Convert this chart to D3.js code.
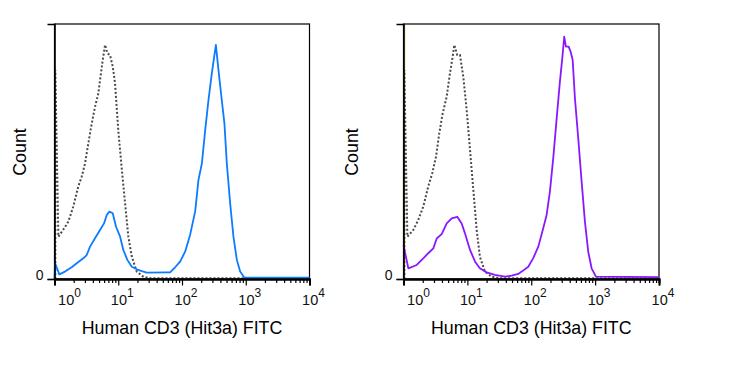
<!DOCTYPE html>
<html>
<head>
<meta charset="utf-8">
<script src="https://cdn.jsdelivr.net/npm/d3@7"></script>
<style>
  html, body { margin: 0; padding: 0; background: #fff; }
  svg { display: block; font-family: "Liberation Sans", Arial, sans-serif; }
</style>
</head>
<body>
<script>
// ---- Data (x = fluorescence intensity, y = count as % of panel max) ----
const leftIsotype = [
  [1.03, 0], [1.03, 82], [1.15, 16.6], [1.37, 19.3], [1.65, 22.5], [1.97, 28.4], [2.36, 36.3],
  [2.67, 40.1], [3.01, 45.3], [3.39, 53.1], [3.84, 61.0], [4.32, 67.5], [4.87, 72.8],
  [5.18, 78.0], [5.71, 85.9], [6.21, 91.8], [6.75, 88.5], [7.43, 87.8], [8.20, 83.3],
  [8.91, 76.7], [10.0, 58.4], [11.4, 42.7], [12.8, 29.7], [14.4, 16.6], [16.3, 8.8],
  [19.5, 2.9], [24.8, 0.9], [31.6, 0.3], [10000, 0.3]
];
const leftStained = [
  [1.0, 0], [1.02, 6.2], [1.19, 1.8], [1.46, 2.9], [1.86, 4.6], [2.23, 6.2], [2.83, 8.1],
  [3.20, 9.4], [3.61, 12.7], [4.32, 16.0], [5.18, 19.2], [5.98, 21.8], [6.60, 25.1],
  [7.25, 26.4], [8.20, 25.8], [9.23, 20.5], [10.7, 16.6], [12.0, 11.4], [13.9, 7.5],
  [16.3, 4.8], [19.5, 3.8], [23.4, 3.1], [28.0, 2.5], [57.7, 2.6], [65.0, 2.6],
  [78.0, 4.6], [93.3, 6.8], [112, 10.7], [134, 17.3], [161, 26.5], [181, 38.8],
  [205, 45.3], [231, 58.3], [260, 70.1], [294, 80.7], [340, 91.8], [373, 82.0],
  [421, 70.1], [463, 61.0], [505, 45.3], [569, 29.7], [641, 16.6], [725, 7.5],
  [817, 2.9], [955, 0.5], [10000, 0.5]
];
const rightIsotype = [
  [1.03, 0], [1.03, 82], [1.15, 16.6], [1.42, 19.2], [1.70, 23.1], [2.04, 28.4], [2.44, 36.3],
  [2.82, 41.5], [3.23, 48.0], [3.63, 57.1], [4.11, 65.0], [4.74, 71.5], [5.34, 80.7],
  [5.89, 87.2], [6.24, 91.8], [6.95, 87.8], [7.66, 87.8], [8.63, 79.3], [9.75, 66.3],
  [11.0, 50.6], [12.4, 34.9], [14.0, 19.2], [15.7, 8.7], [18.8, 2.9], [24.0, 0.9],
  [32, 0.3], [10000, 0.3]
];
const rightStained = [
  [1.0, 13.3], [1.19, 4.2], [1.61, 5.5], [2.04, 8.1], [2.44, 10.1], [2.93, 12.0],
  [3.31, 15.9], [3.96, 17.6], [4.75, 21.8], [5.68, 23.8], [6.95, 24.4], [8.14, 21.8],
  [9.17, 17.9], [11.0, 11.4], [13.2, 6.8], [15.7, 4.2], [20.0, 2.6], [27.0, 1.6],
  [38.8, 0.9], [49.3, 1.3], [62.6, 2.0], [70.8, 2.9], [89.8, 4.8], [107, 8.1],
  [129, 12.7], [154, 19.9], [174, 25.1], [196, 34.3], [221, 47.4], [250, 63.0],
  [281, 77.4], [306, 86.5], [328, 95.0], [349, 91.1], [385, 91.1], [414, 89.1],
  [445, 85.9], [483, 70.9], [544, 55.2], [615, 38.2], [692, 22.5], [780, 10.7],
  [881, 4.2], [1030, 0.9], [10000, 0.7]
];
const majorTicks = [1, 10, 100, 1000, 10000];
const tickExponents = ["0", "1", "2", "3", "4"];
const yTicks = [0];
const yTickLabels = ["0"];
const xTitle = "Human CD3 (Hit3a) FITC";
const yTitle = "Count";
const panelColors = ["#0b7bff", "#8a18ff"];

// ---- Layout ----
const svg = d3.select("body").append("svg").attr("width", 744).attr("height", 380);
const plotTop = 24, plotBottom = 279;
const panels = [
  { left: 54.5, right: 309.5, iso: leftIsotype, stained: leftStained, color: panelColors[0], countX: 20, yellowEdge: false },
  { left: 403.5, right: 659, iso: rightIsotype, stained: rightStained, color: panelColors[1], countX: 352, yellowEdge: true }
];

const minorTicks = [];
for (let d = 1; d < 10000; d *= 10) for (let k = 2; k <= 9; k++) minorTicks.push(d * k);

panels.forEach(p => {
  const x = d3.scaleLog().domain([1, 10000]).range([p.left, p.right]);
  const y = d3.scaleLinear().domain([0, 100]).range([plotBottom, plotTop]);
  const g = svg.append("g");

  // frame
  g.append("rect").attr("x", p.left).attr("y", plotTop)
    .attr("width", p.right - p.left).attr("height", plotBottom - plotTop)
    .attr("fill", "none").attr("stroke", "#000").attr("stroke-width", 1.2);
  if (p.yellowEdge) {
    g.append("line").attr("x1", p.left + 1.3).attr("x2", p.left + 1.3)
      .attr("y1", plotTop + 1).attr("y2", plotBottom).attr("stroke", "#d4dc78").attr("stroke-width", 1);
  }

  // curves
  const line = d3.line().x(d => x(d[0])).y(d => y(d[1]));
  g.append("path").datum(p.iso).attr("d", line).attr("fill", "none")
    .attr("stroke", "#4a4a4a").attr("stroke-width", 2).attr("stroke-dasharray", "2,2");
  g.append("path").datum(p.stained).attr("d", line).attr("fill", "none")
    .attr("stroke", p.color).attr("stroke-width", 1.8).attr("stroke-linejoin", "round");

  // x axis major / minor
  const axMajor = d3.axisBottom(x).tickValues(majorTicks).tickSize(6.5).tickFormat("");
  const axMinor = d3.axisBottom(x).tickValues(minorTicks).tickSize(4).tickFormat("");
  const gx1 = g.append("g").attr("transform", `translate(0,${plotBottom})`).call(axMajor);
  const gx2 = g.append("g").attr("transform", `translate(0,${plotBottom})`).call(axMinor);
  [gx1, gx2].forEach(ax => {
    ax.select(".domain").attr("stroke", "#000").attr("stroke-width", 2);
    ax.selectAll(".tick line").attr("stroke", "#000").attr("stroke-width", 1.2);
  });

  // x tick labels 10^k
  majorTicks.forEach((v, i) => {
    const cx = x(v) + (i === 0 ? 15 : 4);
    const t = g.append("text").attr("x", cx).attr("y", 305)
      .attr("text-anchor", "middle").attr("fill", "#111").attr("font-size", 14.5);
    t.append("tspan").text("10");
    t.append("tspan").attr("dy", -8).attr("font-size", 12).text(tickExponents[i]);
  });

  // y axis tick 0
  const axY = d3.axisLeft(y).tickValues(yTicks).tickSize(7).tickFormat("");
  const gy = g.append("g").attr("transform", `translate(${p.left},0)`).call(axY);
  gy.select(".domain").attr("stroke", "#000").attr("stroke-width", 1.6);
  gy.selectAll(".tick line").attr("stroke", "#000").attr("stroke-width", 1.2);
  yTicks.forEach((v, i) => {
    g.append("text").attr("x", p.left - 11).attr("y", y(v) + 1)
      .attr("text-anchor", "end").attr("font-size", 14).attr("fill", "#111").text(yTickLabels[i]);
  });

  // titles
  g.append("text").attr("x", (p.left + p.right) / 2).attr("y", 334)
    .attr("text-anchor", "middle").attr("font-size", 17.8).attr("fill", "#000").text(xTitle);
  g.append("text").attr("transform", `translate(${p.countX + 6},152) rotate(-90)`)
    .attr("text-anchor", "middle").attr("font-size", 17.8).attr("fill", "#000").text(yTitle);
});
</script>
</body>
</html>
